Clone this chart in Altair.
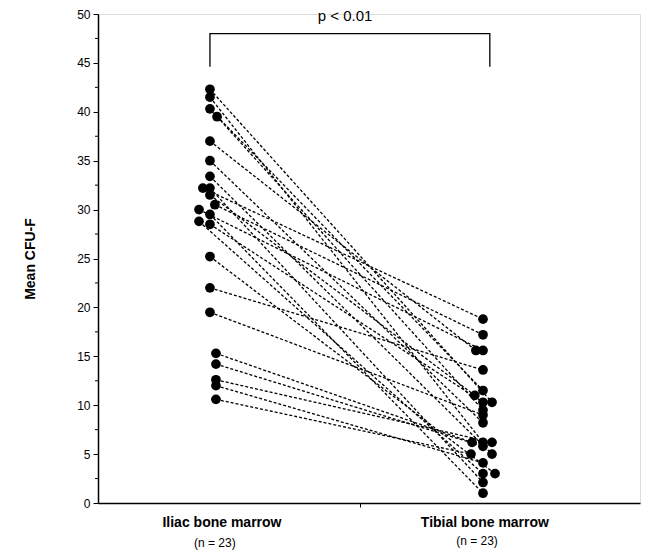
import altair as alt
import pandas as pd

iliac = [42.3, 41.5, 40.3, 39.5, 37.0, 35.0, 33.4, 32.2, 32.2, 31.5, 30.5, 30.0,
         29.5, 28.8, 28.5, 25.2, 22.0, 19.5, 15.3, 14.2, 12.6, 12.0, 10.6]
tibial = [10.3, 6.2, 11.5, 9.5, 15.6, 8.2, 5.0, 18.8, 2.1, 11.0, 17.2, 15.6,
          1.0, 3.0, 10.3, 3.0, 13.6, 9.0, 6.2, 5.8, 6.2, 4.1, 5.0]
# small horizontal jitter of the dots (in category units)
iliac_jitter = [0, 0, 0, 0.026, 0, 0, 0, -0.026, 0, 0, 0.018, -0.04,
                0, -0.04, 0, 0, 0, 0, 0.022, 0.022, 0.022, 0.022, 0.022]
tibial_jitter = [0.033, 0, 0, 0, -0.026, 0, 0.033, 0, 0, -0.03, 0, 0,
                 0, 0, 0, 0.044, 0, 0, -0.04, 0, 0.033, 0, -0.044]
groups = ["Iliac bone marrow", "Tibial bone marrow"]
group_pos = [1, 2]
n_labels = ["(n = 23)", "(n = 23)"]
y_ticks = list(range(0, 51, 5))
y_minor = [2.5 + 5 * i for i in range(10)]

rows = []
for i in range(len(iliac)):
    rows.append({"pair": i, "x": group_pos[0] + iliac_jitter[i], "y": iliac[i]})
    rows.append({"pair": i, "x": group_pos[1] + tibial_jitter[i], "y": tibial[i]})
df = pd.DataFrame(rows)

W, H = 542, 489
xscale = alt.Scale(domain=[0.59, 2.575], nice=False, zero=False)
yscale = alt.Scale(domain=[0, 50], nice=False)
FONT = "Liberation Sans"

x_axis = alt.Axis(values=[1.549], labels=False, title=None, tickSize=4,
                  domainColor="black", tickColor="black", domainWidth=1.5, grid=False)
y_axis = alt.Axis(values=y_ticks, title="Mean CFU-F", tickSize=5, labelFontSize=12,
                  labelFont=FONT, labelColor="black", titleFont=FONT, titleFontSize=14,
                  titleFontWeight="bold", titleColor="black", titlePadding=39,
                  domainColor="black", tickColor="black", domainWidth=1.5, grid=False,
                  labelPadding=3)

lines = alt.Chart(df).mark_line(color="black", strokeDash=[3, 2], strokeWidth=1.3).encode(
    x=alt.X("x:Q", scale=xscale, axis=x_axis),
    y=alt.Y("y:Q", scale=yscale, axis=y_axis),
    detail="pair:N",
    order="x:Q",
)

points = alt.Chart(df).mark_circle(color="black", size=95, opacity=1).encode(
    x=alt.X("x:Q", scale=xscale),
    y=alt.Y("y:Q", scale=yscale),
)

minor = alt.Chart(pd.DataFrame({"y": y_minor})).mark_rule(color="black", strokeWidth=1).encode(
    x=alt.value(-3), x2=alt.value(0), y=alt.Y("y:Q", scale=yscale)
)

# significance bracket
bracket_df = pd.DataFrame({
    "x": [1.0, 1.0, 2.025, 2.025],
    "y": [44.6, 48.0, 48.0, 44.6],
    "o": [0, 1, 2, 3],
})
bracket = alt.Chart(bracket_df).mark_line(color="black", strokeWidth=1.3).encode(
    x=alt.X("x:Q", scale=xscale), y=alt.Y("y:Q", scale=yscale), order="o:Q"
)
ptext = alt.Chart(pd.DataFrame({"x": [1.495], "y": [49.8], "t": ["p < 0.01"]})).mark_text(
    font=FONT, fontSize=15, color="black", baseline="middle"
).encode(x=alt.X("x:Q", scale=xscale), y=alt.Y("y:Q", scale=yscale), text="t:N")

cat_df = pd.DataFrame({"x": [1.044, 2.007], "y": [-2.05, -2.05], "t": groups})
cat_text = alt.Chart(cat_df).mark_text(
    font=FONT, fontSize=14, fontWeight="bold", color="black", baseline="middle"
).encode(x=alt.X("x:Q", scale=xscale), y=alt.Y("y:Q", scale=yscale), text="t:N")

n_df = pd.DataFrame({"x": [1.018, 1.978], "y": [-4.1, -3.9], "t": n_labels})
n_text = alt.Chart(n_df).mark_text(
    font=FONT, fontSize=12, color="black", baseline="middle"
).encode(x=alt.X("x:Q", scale=xscale), y=alt.Y("y:Q", scale=yscale), text="t:N")

chart = alt.layer(lines, points, minor, bracket, ptext, cat_text, n_text).properties(
    width=W, height=H,
    autosize=alt.AutoSizeParams(type="none"),
    padding={"left": 90, "top": 6, "right": 3, "bottom": 48},
).configure_view(stroke=None).configure(background="white")

chart.save("out.html", embed_options={"renderer": "svg", "actions": False})
